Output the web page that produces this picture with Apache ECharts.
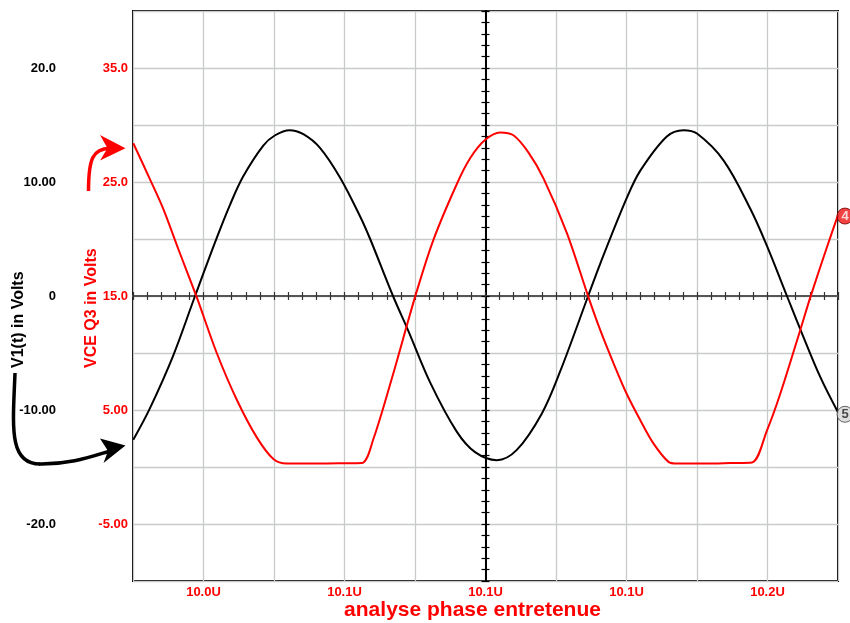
<!DOCTYPE html>
<html>
<head>
<meta charset="utf-8">
<script src="https://cdn.jsdelivr.net/npm/echarts@6/dist/echarts.min.js"></script>
<style>
html,body{margin:0;padding:0;background:#fff;}
#chart{width:850px;height:623px;}
</style>
</head>
<body>
<div id="chart"></div>
<script>
// ---------- data ----------
const CENTER_TIME = 10.1; // µs, position of the centre cross-hair
const xTickTimes  = [10.0, 10.05, 10.1, 10.15, 10.2];
const xTickLabels = ['10.0U', '10.1U', '10.1U', '10.1U', '10.2U'];

const v1TickValues  = [20, 10, 0, -10, -20];
const v1TickLabels  = ['20.0', '10.00', '0', '-10.00', '-20.0'];
const vceTickValues = [35, 25, 15, 5, -5];
const vceTickLabels = ['35.0', '25.0', '15.0', '5.00', '-5.00'];

const v1Time = [9.9751, 9.9809, 9.9893, 9.9970, 10.0047, 10.0094, 10.0141, 10.0212, 10.0254, 10.0305,
  10.0354, 10.0413, 10.0484, 10.0555, 10.0591, 10.0672, 10.0727, 10.0804, 10.0898, 10.0963,
  10.1040, 10.1111, 10.1200, 10.1265, 10.1364, 10.1407, 10.1501, 10.1549, 10.1643, 10.1702,
  10.1750, 10.1844, 10.1939, 10.1998, 10.2069, 10.2116, 10.2187, 10.2250];
const v1Volts = [-12.6, -9.9, -5.2, 0.0, 5.1, 8.0, 10.5, 13.2, 14.1, 14.55,
  14.2, 13.0, 10.4, 7.0, 5.0, 0.0, -3.1, -7.6, -11.9, -13.7,
  -14.4, -13.5, -10.3, -6.6, 0.0, 2.85, 8.6, 11.0, 14.0, 14.55,
  14.25, 11.9, 7.65, 4.4, 0.0, -2.9, -7.1, -10.2];

const vceTime = [9.9751, 9.9809, 9.9858, 9.9911, 9.9976, 10.0047, 10.0118, 10.0189, 10.0248, 10.0295,
  10.0400, 10.0480, 10.0562, 10.0603, 10.0673, 10.0750, 10.0815, 10.0898, 10.0946, 10.0999,
  10.1052, 10.1099, 10.1152, 10.1206, 10.1289, 10.1365, 10.1407, 10.1454, 10.1501, 10.1549,
  10.1596, 10.1649, 10.1679, 10.1780, 10.1870, 10.1945, 10.1998, 10.2045, 10.2116, 10.2152,
  10.2211, 10.2250];
const vceVolts = [28.4, 25.3, 22.6, 19.1, 14.9, 10.0, 5.9, 2.6, 0.7, 0.3,
  0.3, 0.32, 0.35, 2.5, 8.2, 14.9, 19.9, 24.8, 27.1, 28.7,
  29.35, 29.1, 27.6, 25.3, 20.5, 14.9, 12.0, 9.1, 6.4, 4.1,
  2.05, 0.45, 0.3, 0.3, 0.35, 0.4, 3.2, 6.4, 12.0, 14.9,
  19.3, 22.1];

const badgeLabels = ['4', '5'];

// ---------- helpers ----------
const FONT = '"Liberation Sans", Arial, Helvetica, sans-serif';
const RED = '#ff0000';
const GRID = '#c8ccc8';

function lookupLabel(values, labels, v) {
  for (let i = 0; i < values.length; i++) {
    if (Math.abs(values[i] - v) < 1e-6) return labels[i];
  }
  return '';
}
const v1Data  = v1Time.map((t, i) => [t - CENTER_TIME, v1Volts[i]]);
const vceData = vceTime.map((t, i) => [t - CENTER_TIME, vceVolts[i]]);
const lastV1  = v1Data[v1Data.length - 1];
const lastVce = vceData[vceData.length - 1];

const X_MIN = -0.125, X_MAX = 0.125;

function crossX(inside) {
  return {
    type: 'value', position: 'bottom', min: X_MIN, max: X_MAX, interval: 0.005,
    axisLine: { show: true, onZero: true, onZeroAxisIndex: 0, lineStyle: { color: '#555', width: 2 } },
    axisTick: { show: true, inside: inside, length: 4, lineStyle: { color: '#333', width: 1.2 } },
    axisLabel: { show: false }, splitLine: { show: false }
  };
}
function crossY(inside) {
  return {
    type: 'value', position: 'left', min: -25, max: 25, interval: 1,
    axisLine: { show: true, onZero: true, onZeroAxisIndex: 0, lineStyle: { color: '#000', width: 2 } },
    axisTick: { show: true, inside: inside, length: 4, lineStyle: { color: '#000', width: 1.2 } },
    axisLabel: { show: false }, splitLine: { show: false }
  };
}

const chart = echarts.init(document.getElementById('chart'), null, { renderer: 'canvas' });
chart.setOption({
  animation: false,
  backgroundColor: '#fff',
  grid: { left: 133, right: 12, top: 11, bottom: 42, show: true, borderColor: '#000', borderWidth: 2, backgroundColor: 'transparent' },
  xAxis: [
    {
      type: 'value', position: 'bottom', min: X_MIN, max: X_MAX, interval: 0.025,
      axisLine: { show: false, onZero: false },
      axisTick: { show: false },
      axisLabel: {
        color: RED, fontWeight: 'bold', fontSize: 13, fontFamily: FONT, margin: 5,
        formatter: v => lookupLabel(xTickTimes, xTickLabels, v + CENTER_TIME)
      },
      splitLine: { show: true, lineStyle: { color: GRID, width: 1.3 } }
    },
    crossX(true),
    crossX(false)
  ],
  yAxis: [
    {
      type: 'value', position: 'left', offset: 70, min: -25, max: 25, interval: 5,
      axisLine: { show: false, onZero: false }, axisTick: { show: false },
      axisLabel: {
        color: '#000', fontWeight: 'bold', fontSize: 13, fontFamily: FONT, margin: 7,
        formatter: v => lookupLabel(v1TickValues, v1TickLabels, v)
      },
      splitLine: { show: true, lineStyle: { color: GRID, width: 1.3 } }
    },
    {
      type: 'value', position: 'left', offset: 0, min: -10, max: 40, interval: 5,
      axisLine: { show: false, onZero: false }, axisTick: { show: false },
      axisLabel: {
        color: RED, fontWeight: 'bold', fontSize: 13, fontFamily: FONT, margin: 5,
        formatter: v => lookupLabel(vceTickValues, vceTickLabels, v)
      },
      splitLine: { show: false }
    },
    crossY(true),
    crossY(false)
  ],
  series: [
    {
      name: 'V1(t)', type: 'line', xAxisIndex: 0, yAxisIndex: 0, data: v1Data,
      showSymbol: false, smooth: 0.35,
      lineStyle: { color: '#000', width: 2 }, itemStyle: { color: '#000' }, z: 4
    },
    {
      name: 'VCE Q3', type: 'line', xAxisIndex: 0, yAxisIndex: 1, data: vceData,
      showSymbol: false, smooth: 0.3,
      lineStyle: { color: RED, width: 2 }, itemStyle: { color: RED }, z: 4
    },
    {
      type: 'scatter', xAxisIndex: 0, yAxisIndex: 1, data: [lastVce], clip: false, silent: true,
      symbol: 'circle', symbolSize: 16, symbolOffset: [7, 1], z: 10,
      itemStyle: { color: '#ee1111', borderColor: '#700000', borderWidth: 1 },
      label: { show: true, position: 'inside', formatter: badgeLabels[0], color: '#fff', fontWeight: 'bold', fontSize: 13, fontFamily: FONT }
    },
    {
      type: 'scatter', xAxisIndex: 0, yAxisIndex: 0, data: [lastV1], clip: false, silent: true,
      symbol: 'circle', symbolSize: 16, symbolOffset: [7, 2], z: 10,
      itemStyle: { color: '#d6d6d6', borderColor: '#444', borderWidth: 1 },
      label: { show: true, position: 'inside', formatter: badgeLabels[1], color: '#222', fontWeight: 'bold', fontSize: 13, fontFamily: FONT }
    }
  ],
  graphic: [
    { type: 'text', x: 19, y: 368, rotation: Math.PI / 2, silent: true,
      style: { text: 'V1(t) in Volts', font: 'bold 16px ' + FONT, fill: '#000', align: 'left', verticalAlign: 'middle', textAlign: 'left', textVerticalAlign: 'middle' } },
    { type: 'text', x: 91.5, y: 368, rotation: Math.PI / 2, silent: true,
      style: { text: 'VCE Q3 in Volts', font: 'bold 16px ' + FONT, fill: RED, align: 'left', verticalAlign: 'middle', textAlign: 'left', textVerticalAlign: 'middle' } },
    { type: 'text', x: 472.5, y: 610, silent: true,
      style: { text: 'analyse phase entretenue', font: 'bold 21px ' + FONT, fill: RED, align: 'center', verticalAlign: 'middle', textAlign: 'center', textVerticalAlign: 'middle' } },
    // red arrow
    { type: 'bezierCurve', silent: true,
      shape: { x1: 88.5, y1: 191, cpx1: 88.5, cpy1: 158, cpx2: 93, cpy2: 149, x2: 110, y2: 148.3 },
      style: { stroke: RED, lineWidth: 3.5, fill: null } },
    { type: 'polygon', silent: true,
      shape: { points: [[125.5, 148.3], [100, 135], [107.5, 148.3], [100, 160.5]] },
      style: { fill: RED, stroke: null } },
    // black arrow
    { type: 'bezierCurve', silent: true,
      shape: { x1: 15, y1: 373, cpx1: 13, cpy1: 425, cpx2: 8, cpy2: 464, x2: 40, y2: 464 },
      style: { stroke: '#000', lineWidth: 3.5, fill: null } },
    { type: 'bezierCurve', silent: true,
      shape: { x1: 39, y1: 464, cpx1: 70, cpy1: 464.5, cpx2: 90, cpy2: 457, x2: 110, y2: 451 },
      style: { stroke: '#000', lineWidth: 3.5, fill: null } },
    { type: 'polygon', silent: true,
      shape: { points: [[125.5, 445.5], [100, 438.5], [108, 451], [103.5, 463]] },
      style: { fill: '#000', stroke: null } }
  ]
});
</script>
</body>
</html>
